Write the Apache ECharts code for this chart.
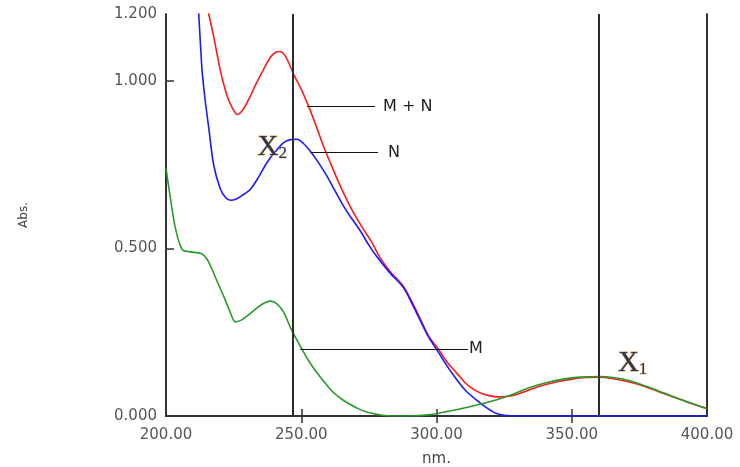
<!DOCTYPE html>
<html>
<head>
<meta charset="utf-8">
<script src="https://cdn.jsdelivr.net/npm/echarts@6/dist/echarts.min.js"></script>
<style>
  html, body { margin: 0; padding: 0; background: #fff; }
  #chart { width: 740px; height: 467px; }
</style>
</head>
<body>
<div id="chart"></div>
<script>
// wavelengths (nm) and absorbances
const mnNm = [214, 215.8, 217.6, 220, 222.6, 224.5, 226.3, 228.5, 231.2, 233.5, 236.1, 238.5, 240.4, 242, 244.1, 247.2, 250, 252.7, 255.5, 258.2, 261.3, 264.4, 267, 269.3, 273, 276, 279.3, 283, 287.7, 291, 294, 297, 300.7, 304, 307.5, 310.5, 313.6, 316.5, 319.8, 323, 326, 329, 332, 336, 340, 345, 350, 355, 360, 365, 371, 377, 384, 390, 395, 400];
const mnAbs = [1.27, 1.2, 1.134, 1.035, 0.955, 0.92, 0.9, 0.915, 0.955, 0.995, 1.035, 1.07, 1.085, 1.088, 1.075, 1.02, 0.975, 0.925, 0.866, 0.806, 0.745, 0.687, 0.643, 0.607, 0.557, 0.52, 0.47, 0.43, 0.388, 0.34, 0.29, 0.24, 0.199, 0.16, 0.128, 0.1, 0.08, 0.068, 0.06, 0.057, 0.058, 0.063, 0.071, 0.083, 0.093, 0.103, 0.11, 0.115, 0.116, 0.112, 0.102, 0.088, 0.067, 0.05, 0.035, 0.022];

const nNm = [211.5, 212.1, 212.7, 213.4, 214.6, 215.8, 217.6, 220, 222, 223.8, 226, 228.5, 231.2, 234, 237.3, 240.5, 243.5, 246, 248.4, 251, 253.3, 256.5, 259.5, 262.5, 265.6, 268, 271.8, 275, 277.9, 283, 287.7, 291, 294, 297, 300.7, 304, 307.5, 311, 316, 319, 322, 325, 330, 340, 360, 380, 400];
const nAbs = [1.28, 1.2, 1.115, 1.025, 0.935, 0.86, 0.75, 0.68, 0.652, 0.644, 0.648, 0.66, 0.677, 0.71, 0.756, 0.79, 0.816, 0.825, 0.826, 0.812, 0.791, 0.755, 0.716, 0.672, 0.627, 0.597, 0.553, 0.51, 0.476, 0.425, 0.384, 0.335, 0.285, 0.237, 0.19, 0.148, 0.108, 0.074, 0.04, 0.022, 0.008, 0.002, 0, 0, 0, 0, 0];

const mNm = [200, 201.7, 203.5, 206, 209, 213, 215, 217, 219, 221.3, 223.5, 225.6, 228, 231, 234, 236.5, 238.6, 241, 243.5, 246, 249.6, 252.5, 255.8, 259, 261.9, 265, 268, 271, 274.2, 280, 285, 290, 297.6, 303, 309.8, 316, 322, 328, 334.5, 340.5, 346.8, 353, 360.3, 366, 371.4, 377, 383.6, 390, 395, 400];
const mAbs = [0.74, 0.647, 0.56, 0.497, 0.49, 0.485, 0.47, 0.438, 0.4, 0.358, 0.315, 0.281, 0.287, 0.305, 0.325, 0.338, 0.343, 0.335, 0.31, 0.264, 0.209, 0.168, 0.129, 0.097, 0.07, 0.05, 0.035, 0.022, 0.012, 0.002, 0, 0, 0.004, 0.012, 0.023, 0.035, 0.048, 0.064, 0.085, 0.099, 0.11, 0.116, 0.118, 0.114, 0.105, 0.09, 0.07, 0.05, 0.036, 0.022];

// isosbestic-type markers
const markerNm = [247, 360];
const markerNames = ['2', '1'];
const markerLabelAt = [[239.3, 0.802], [372.5, 0.158]];

// leader lines: label, from nm, to nm, abs
const leaderText = ['M + N', 'N', 'M'];
const leaderFrom = [252.1, 253.3, 249.6];
const leaderTo = [277.3, 278.4, 311.6];
const leaderAbs = [0.924, 0.787, 0.199];

const xLabels = [200, 250, 300, 350, 400];
const yLabels = [0, 0.5, 1.0, 1.2];

const zip = (xs, ys) => xs.map((x, i) => [x, ys[i]]);

const chart = echarts.init(document.getElementById('chart'));
const font = 'DejaVu Sans';
const frame = { show: true, lineStyle: { color: '#333', width: 2 } };

const leaderLine = (i, dist) => [
  { coord: [leaderFrom[i], leaderAbs[i]] },
  {
    coord: [leaderTo[i], leaderAbs[i]],
    label: { show: true, position: 'end', formatter: leaderText[i], distance: dist, color: '#222', fontFamily: font, fontSize: 16 }
  }
];

const markerLabel = (i) => ({
  coord: markerLabelAt[i],
  symbolSize: 0,
  label: {
    show: true,
    position: 'inside',
    formatter: '{x|X}{s|' + markerNames[i] + '}',
    rich: {
      x: { fontFamily: 'Liberation Serif', fontSize: 29, color: '#2c3550', textBorderColor: '#c9a25a', textBorderWidth: 1 },
      s: { fontFamily: 'Liberation Serif', fontSize: 17, color: '#2c3550', textBorderColor: '#c9a25a', textBorderWidth: 0.6, verticalAlign: 'bottom' }
    }
  }
});

const option = {
  animation: false,
  backgroundColor: '#fff',
  grid: { left: 166, right: 33, top: 14, bottom: 51, outerBoundsMode: 'none' },
  xAxis: [
    {
      type: 'value', min: 200, max: 400, interval: 50, position: 'bottom',
      name: 'nm.', nameLocation: 'middle', nameGap: 36,
      nameTextStyle: { color: '#444', fontFamily: font, fontSize: 15 },
      axisLine: frame,
      axisTick: { show: true, inside: true, length: 7, customValues: [250, 300, 350], lineStyle: { color: '#333', width: 1.5 } },
      axisLabel: { customValues: xLabels, margin: 12, color: '#555', fontFamily: font, fontSize: 15, formatter: v => v.toFixed(2) },
      splitLine: { show: false }
    },
    {
      type: 'value', min: 200, max: 400, interval: 50, position: 'top',
      axisLine: frame,
      axisTick: { show: true, inside: true, length: 7, customValues: [250, 300, 350], lineStyle: { color: '#333', width: 1.5 } },
      axisLabel: { show: false },
      splitLine: { show: false }
    }
  ],
  yAxis: [
    {
      type: 'value', min: 0, max: 1.2, position: 'left',
      name: 'Abs.', nameLocation: 'middle', nameGap: 136,
      nameTextStyle: { color: '#444', fontFamily: font, fontSize: 12 },
      axisLine: frame,
      axisTick: { show: true, inside: true, length: 8, customValues: [0.5, 1.0], lineStyle: { color: '#333', width: 1.5 } },
      axisLabel: { customValues: yLabels, margin: 9, color: '#555', fontFamily: font, fontSize: 15, formatter: v => v.toFixed(3) },
      splitLine: { show: false }
    },
    {
      type: 'value', min: 0, max: 1.2, position: 'right',
      axisLine: frame, axisTick: { show: false }, axisLabel: { show: false }, splitLine: { show: false }
    }
  ],
  series: [
    {
      name: 'M + N', type: 'line', data: zip(mnNm, mnAbs), smooth: 0.3, showSymbol: false,
      lineStyle: { color: '#ff1a1a', width: 1.6 },
      markLine: {
        silent: true, symbol: 'none',
        lineStyle: { color: '#111', width: 1.2, type: 'solid' },
        data: [leaderLine(0, 8)]
      }
    },
    {
      name: 'N', type: 'line', data: zip(nNm, nAbs), smooth: 0.3, showSymbol: false,
      lineStyle: { color: '#1a1aff', width: 1.6 },
      markLine: {
        silent: true, symbol: 'none',
        lineStyle: { color: '#111', width: 1.2, type: 'solid' },
        data: [leaderLine(1, 10)]
      },
      markPoint: { silent: true, symbol: 'circle', data: [markerLabel(0), markerLabel(1)] }
    },
    {
      name: 'M', type: 'line', data: zip(mNm, mAbs), smooth: 0.3, showSymbol: false,
      lineStyle: { color: '#2a9a2a', width: 1.6 },
      markLine: {
        silent: true, symbol: 'none',
        lineStyle: { color: '#111', width: 1.2, type: 'solid' },
        label: { show: false },
        data: [
          leaderLine(2, 1),
          ...markerNm.map(v => ({ xAxis: v, lineStyle: { color: '#2b2b2b', width: 2 }, label: { show: false } }))
        ]
      }
    }
  ]
};

chart.setOption(option);
</script>
</body>
</html>
